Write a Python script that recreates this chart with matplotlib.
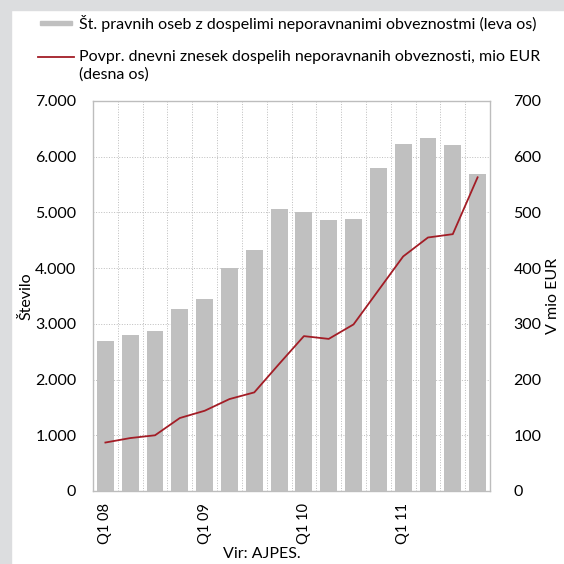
import matplotlib; matplotlib.use('Agg')
import matplotlib.pyplot as plt
from matplotlib.patches import Rectangle
from matplotlib.lines import Line2D
from matplotlib.ticker import FuncFormatter, MultipleLocator

plt.rcParams['font.family'] = ['Lato', 'DejaVu Sans']

# --- data ---
quarters = ['Q1 08', 'Q2 08', 'Q3 08', 'Q4 08',
            'Q1 09', 'Q2 09', 'Q3 09', 'Q4 09',
            'Q1 10', 'Q2 10', 'Q3 10', 'Q4 10',
            'Q1 11', 'Q2 11', 'Q3 11', 'Q4 11']
shown_ticks = ['Q1 08', 'Q1 09', 'Q1 10', 'Q1 11']
st_oseb = [2700, 2800, 2870, 3260, 3440, 4010, 4320, 5070,
           5000, 4865, 4890, 5790, 6235, 6335, 6205, 5690]
znesek_mio = [87, 95, 100, 131, 144, 165, 177, 228,
              278, 273, 299, 360, 421, 455, 461, 563]

label_bars = 'Št. pravnih oseb z dospelimi neporavnanimi obveznostmi (leva os)'
label_line = 'Povpr. dnevni znesek dospelih neporavnanih obveznosti, mio EUR'
label_line2 = '(desna os)'

BAR_C = '#C0C0C0'
LINE_C = '#A31D26'
GRID_C = '#BDBDBD'
BORDER_C = '#DCDDDF'
FS = 11.5

W = H = 564
def fx(px): return px / W
def fy(py): return 1 - py / H

fig = plt.figure(figsize=(5.64, 5.64), dpi=100)
fig.patch.set_facecolor('white')

# grey frame strips (left + top)
fig.patches.append(Rectangle((0, 0), fx(11), 1, transform=fig.transFigure,
                             color=BORDER_C, zorder=0))
fig.patches.append(Rectangle((0, fy(10)), 1, 10 / H, transform=fig.transFigure,
                             color=BORDER_C, zorder=0))

ax = fig.add_axes([fx(93), fy(491), 397 / W, 390 / H])
x = range(len(quarters))
ax.bar(x, st_oseb, width=0.68, color=BAR_C, zorder=2)
ax.set_xlim(-0.5, len(quarters) - 0.5)
ax.set_ylim(0, 7000)
ax.yaxis.set_major_locator(MultipleLocator(1000))
ax.yaxis.set_major_formatter(FuncFormatter(lambda v, p: f'{int(v):,}'.replace(',', '.')))
ax.set_xticks([quarters.index(q) for q in shown_ticks])
ax.set_xticklabels(shown_ticks, rotation=90, fontsize=10.5)
ax.set_xticks([i + 0.5 for i in range(len(quarters) - 1)], minor=True)
ax.tick_params(axis='x', which='both', length=0, pad=9)
ax.tick_params(axis='y', length=0, pad=12, labelsize=FS)
ax.grid(axis='y', color=GRID_C, linestyle=':', linewidth=0.7, zorder=0)
ax.grid(axis='x', which='minor', color=GRID_C, linestyle=':', linewidth=0.7, zorder=0)
ax.set_axisbelow(True)
for s in ax.spines.values():
    s.set_color(GRID_C); s.set_linewidth(1.0)
ax.set_ylabel('Število', fontsize=FS)
ax.yaxis.set_label_coords((33 - 93) / 397, 0.5)

ax2 = ax.twinx()
ax2.plot(x, znesek_mio, color=LINE_C, linewidth=1.3, zorder=3)
ax2.set_ylim(0, 700)
ax2.yaxis.set_major_locator(MultipleLocator(100))
ax2.tick_params(axis='y', length=0, pad=17, labelsize=FS)
for s in ax2.spines.values():
    s.set_visible(False)
ax2.set_ylabel('V mio EUR', fontsize=FS)
ax2.yaxis.set_label_coords((546 - 93) / 397, 0.5)

# legend (manual, above the plot)
fig.patches.append(Rectangle((fx(40), fy(25)), 32 / W, 4 / H, transform=fig.transFigure,
                             color=BAR_C))
fig.text(fx(79), fy(23), label_bars, fontsize=FS, va='center', ha='left')
fig.lines.append(Line2D([fx(38), fx(74)], [fy(57), fy(57)], transform=fig.transFigure,
                        color=LINE_C, linewidth=1.3))
fig.text(fx(79), fy(57), label_line, fontsize=FS, va='center', ha='left')
fig.text(fx(79), fy(75), label_line2, fontsize=FS, va='center', ha='left')

fig.text(fx(262), fy(554), 'Vir: AJPES.', fontsize=FS, ha='center', va='center')

fig.savefig('out.png', dpi=100)
